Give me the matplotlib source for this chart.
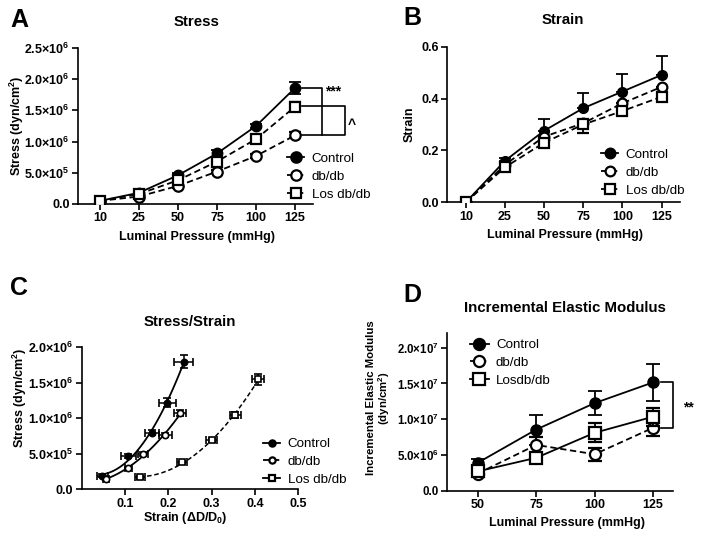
import matplotlib
matplotlib.use('Agg')
import matplotlib.pyplot as plt
from matplotlib.lines import Line2D
import numpy as np

plt.rcParams['font.family'] = ['Liberation Sans', 'DejaVu Sans']
plt.rcParams['mathtext.fontset'] = 'custom'
plt.rcParams['mathtext.rm'] = 'Liberation Sans:bold'
plt.rcParams['mathtext.it'] = 'Liberation Sans:bold'
plt.rcParams['mathtext.bf'] = 'Liberation Sans:bold'
plt.rcParams['mathtext.default'] = 'rm'

# ---- data ----
pressure = ['10', '25', '50', '75', '100', '125']
pressure_d = ['50', '75', '100', '125']
groups = ['Control', 'db/db', 'Los db/db']

# A: stress (x1e6 dyn/cm2)
stress_ctrl = [0.05, 0.18, 0.46, 0.81, 1.25, 1.86]
stress_db = [0.05, 0.12, 0.29, 0.52, 0.77, 1.10]
stress_los = [0.05, 0.16, 0.38, 0.68, 1.04, 1.56]
stress_ctrl_err = [0.02, 0.03, 0.04, 0.05, 0.04, 0.10]
stress_db_err = [0.01, 0.02, 0.03, 0.03, 0.03, 0.05]
stress_los_err = [0.01, 0.02, 0.03, 0.04, 0.05, 0.07]

# B: strain
strain_ctrl = [0.0, 0.16, 0.276, 0.363, 0.427, 0.491]
strain_db = [0.0, 0.145, 0.253, 0.305, 0.382, 0.445]
strain_los = [0.0, 0.135, 0.23, 0.30, 0.352, 0.407]
strain_ctrl_up = [0.0, 0.01, 0.045, 0.06, 0.067, 0.075]
strain_db_lo = [0.0, 0.01, 0.01, 0.036, 0.01, 0.01]
strain_los_lo = [0.0, 0.01, 0.01, 0.01, 0.01, 0.01]

# C: stress vs strain
c_ctrl_x = [0.048, 0.108, 0.162, 0.198, 0.235]
c_ctrl_y = [0.19, 0.47, 0.80, 1.22, 1.80]
c_ctrl_xerr = [0.013, 0.017, 0.017, 0.02, 0.022]
c_ctrl_yerr = [0.02, 0.03, 0.03, 0.06, 0.09]
c_db_x = [0.056, 0.108, 0.142, 0.193, 0.227]
c_db_y = [0.145, 0.30, 0.50, 0.76, 1.07]
c_db_xerr = [0.006, 0.008, 0.011, 0.015, 0.013]
c_db_yerr = [0.02, 0.02, 0.03, 0.03, 0.04]
c_los_x = [0.134, 0.231, 0.30, 0.355, 0.407]
c_los_y = [0.17, 0.38, 0.69, 1.05, 1.55]
c_los_xerr = [0.012, 0.012, 0.012, 0.012, 0.013]
c_los_yerr = [0.02, 0.02, 0.03, 0.04, 0.08]

# D: incremental elastic modulus (x1e7)
mod_ctrl = [0.39, 0.855, 1.225, 1.515]
mod_db = [0.24, 0.64, 0.51, 0.88]
mod_los = [0.27, 0.46, 0.81, 1.035]
mod_ctrl_err = [0.06, 0.21, 0.165, 0.26]
mod_db_err = [0.03, 0.11, 0.09, 0.11]
mod_los_err = [0.03, 0.04, 0.135, 0.125]

W, H = 704, 539
fig = plt.figure(figsize=(W / 100, H / 100), dpi=100)


def px_axes(left, top, right, bottom):
    return fig.add_axes([left / W, 1 - bottom / H, (right - left) / W, (bottom - top) / H])


def style(ax, size=9):
    for s in ['top', 'right']:
        ax.spines[s].set_visible(False)
    for s in ['left', 'bottom']:
        ax.spines[s].set_linewidth(1.2)
    ax.tick_params(direction='out', length=4, width=1.2, labelsize=9, pad=2)
    ax.tick_params(axis='y', labelsize=size)
    for lab in ax.get_xticklabels() + ax.get_yticklabels():
        lab.set_fontweight('bold')


def sci(v, exp):
    if v == 0:
        return '0.0'
    return '%.1f×10$^{%d}$' % (v, exp)


def ftext(x, y, s, **kw):
    fig.text(x / W, 1 - y / H, s, **kw)


def legend(ax, x, y, handles, labels=groups, hl=1.3):
    ax.legend(handles=handles, labels=labels, loc='center left', frameon=False,
              bbox_to_anchor=(x / W, 1 - y / H), bbox_transform=fig.transFigure,
              fontsize=9.6, borderpad=0, borderaxespad=0, handlelength=hl,
              handletextpad=0.55, labelspacing=0.42)


def hnd(ls, marker, face, ms):
    return Line2D([], [], color='k', ls=ls, lw=1.3, marker=marker, ms=ms,
                  mfc=face, mec='k', mew=1.6)


lw = 1.3
dash = (3.5, 2)

# ---- A: Stress ----
ax = px_axes(78, 48, 313, 204)
idx = np.arange(len(pressure))
ax.errorbar(idx, np.array(stress_ctrl) * 1e6, yerr=np.array(stress_ctrl_err) * 1e6, color='k', lw=lw,
            marker='o', ms=7.5, mfc='k', mec='k', capsize=4.5, elinewidth=1.3, capthick=1.3, zorder=3)
ax.errorbar(idx, np.array(stress_db) * 1e6, yerr=np.array(stress_db_err) * 1e6, color='k', lw=lw, dashes=dash,
            marker='o', ms=7.5, mfc='white', mec='k', mew=1.6, capsize=4.5, elinewidth=1.3, capthick=1.3, zorder=4)
ax.errorbar(idx, np.array(stress_los) * 1e6, yerr=np.array(stress_los_err) * 1e6, color='k', lw=lw, dashes=dash,
            marker='s', ms=7.5, mfc='white', mec='k', mew=1.6, capsize=4.5, elinewidth=1.3, capthick=1.3, zorder=5)
ax.set_xlim(-0.56, 5.46)
ax.set_ylim(0, 2.5e6)
ax.set_xticks(idx)
ax.set_xticklabels(pressure)
yt = [0, 0.5e6, 1.0e6, 1.5e6, 2.0e6, 2.5e6]
ax.set_yticks(yt)
ax.set_yticklabels([sci(v / 1e6 if v >= 1e6 else v / 1e5, 6 if v >= 1e6 else 5) for v in yt])
style(ax)
# significance brackets
bk = dict(color='k', lw=1.2, clip_on=False)
ax.plot([5.18, 5.69, 5.69, 5.18], [1.86e6, 1.86e6, 1.10e6, 1.10e6], **bk)
ax.plot([5.18, 6.28, 6.28, 5.69], [1.57e6, 1.57e6, 1.10e6, 1.10e6], **bk)
ax.text(5.97, 1.80e6, '***', ha='center', va='center', fontsize=10, fontweight='bold')
ax.text(6.46, 1.27e6, '^', ha='center', va='center', fontsize=10, fontweight='bold')
legend(ax, 287, 176.5, [hnd('-', 'o', 'k', 7.5), hnd('--', 'o', 'white', 7.5), hnd('--', 's', 'white', 7.5)])

# ---- B: Strain ----
ax = px_axes(447, 46.7, 680, 202.3)
z = [0] * len(pressure)
ax.errorbar(idx, strain_ctrl, yerr=[z, strain_ctrl_up], color='k', lw=lw, marker='o', ms=7,
            mfc='k', mec='k', capsize=4.5, elinewidth=1.3, capthick=1.3, zorder=3)
ax.errorbar(idx, strain_db, yerr=[strain_db_lo, z], color='k', lw=lw, dashes=dash, marker='o', ms=7,
            mfc='white', mec='k', mew=1.6, capsize=4.5, elinewidth=1.3, capthick=1.3, zorder=4)
ax.errorbar(idx, strain_los, yerr=[strain_los_lo, z], color='k', lw=lw, dashes=dash, marker='s', ms=7,
            mfc='white', mec='k', mew=1.6, capsize=4.5, elinewidth=1.3, capthick=1.3, zorder=5)
ax.set_xlim(-0.48, 5.47)
ax.set_ylim(0, 0.6)
ax.set_xticks(idx)
ax.set_xticklabels(pressure)
ax.set_yticks([0, 0.2, 0.4, 0.6])
ax.set_yticklabels(['0.0', '0.2', '0.4', '0.6'])
style(ax)
legend(ax, 601, 172.5, [hnd('-', 'o', 'k', 7), hnd('--', 'o', 'white', 7), hnd('--', 's', 'white', 7)])

# ---- C: Stress/Strain ----
ax = px_axes(81.7, 347.3, 298.3, 489.3)
ms_c = 4.5
for xs, ys, xe, ye, mk, face, ls in [
        (c_ctrl_x, c_ctrl_y, c_ctrl_xerr, c_ctrl_yerr, 'o', 'k', '-'),
        (c_db_x, c_db_y, c_db_xerr, c_db_yerr, 'o', 'white', '-'),
        (c_los_x, c_los_y, c_los_xerr, c_los_yerr, 's', 'white', '--')]:
    xs = np.array(xs)
    ys = np.array(ys) * 1e6
    # smooth fitted curve through the points
    coef = np.polyfit(xs, ys, 2)
    xf = np.linspace(xs.min(), xs.max(), 100)
    if ls == '--':
        ax.plot(xf, np.polyval(coef, xf), color='k', lw=1.1, dashes=(3, 1.8))
    else:
        ax.plot(xf, np.polyval(coef, xf), color='k', lw=1.3)
    ax.errorbar(xs, ys, xerr=xe, yerr=np.array(ye) * 1e6, fmt=mk, ms=ms_c, mfc=face, mec='k', mew=1.2,
                color='k', capsize=3, elinewidth=1.1, capthick=1.1, zorder=4)
ax.set_xlim(0, 0.5)
ax.set_ylim(0, 2.0e6)
ax.set_xticks([0.1, 0.2, 0.3, 0.4, 0.5])
ax.set_xticklabels(['0.1', '0.2', '0.3', '0.4', '0.5'])
yt = [0, 0.5e6, 1.0e6, 1.5e6, 2.0e6]
ax.set_yticks(yt)
ax.set_yticklabels([sci(v / 1e6 if v >= 1e6 else v / 1e5, 6 if v >= 1e6 else 5) for v in yt])
style(ax)
legend(ax, 263, 462, [hnd('-', 'o', 'k', 4.5), hnd('--', 'o', 'white', 4.5), hnd('-', 's', 'white', 4.5)])

# ---- D: Incremental Elastic Modulus ----
ax = px_axes(446.7, 333.4, 673, 490.7)
idd = np.arange(len(pressure_d))
ax.errorbar(idd, np.array(mod_ctrl) * 1e7, yerr=np.array(mod_ctrl_err) * 1e7, color='k', lw=lw,
            marker='o', ms=8, mfc='k', mec='k', capsize=5, elinewidth=1.3, capthick=1.3, zorder=3)
ax.errorbar(idd, np.array(mod_db) * 1e7, yerr=np.array(mod_db_err) * 1e7, color='k', lw=lw, dashes=dash,
            marker='o', ms=8, mfc='white', mec='k', mew=1.6, capsize=5, elinewidth=1.3, capthick=1.3, zorder=4)
ax.errorbar(idd, np.array(mod_los) * 1e7, yerr=np.array(mod_los_err) * 1e7, color='k', lw=lw,
            marker='s', ms=8, mfc='white', mec='k', mew=1.6, capsize=5, elinewidth=1.3, capthick=1.3, zorder=5)
ax.set_xlim(-0.53, 3.34)
ax.set_ylim(0, 2.2e7)
ax.set_xticks(idd)
ax.set_xticklabels(pressure_d)
yt = [0, 0.5e7, 1.0e7, 1.5e7, 2.0e7]
ax.set_yticks(yt)
ax.set_yticklabels([sci(v / 1e7 if v >= 1e7 else v / 1e6, 7 if v >= 1e7 else 6) for v in yt])
style(ax, size=8.3)
ax.plot([3.14, 3.34, 3.34, 3.14], [1.515e7, 1.515e7, 0.88e7, 0.88e7], **bk)
ax.text(3.6, 1.16e7, '**', ha='center', va='center', fontsize=10, fontweight='bold')
legend(ax, 470, 363, [hnd('-', 'o', 'k', 8), hnd('--', 'o', 'white', 8), hnd('-', 's', 'white', 8)],
       labels=['Control', 'db/db', 'Losdb/db'], hl=1.4)

# ---- titles, labels, panel letters ----
bold = dict(fontweight='bold', ha='center', va='center')
ftext(197, 22, 'Stress', fontsize=10.8, **bold)
ftext(563, 20, 'Strain', fontsize=10.8, **bold)
ftext(190, 322, 'Stress/Strain', fontsize=10.8, **bold)
ftext(565, 308, 'Incremental Elastic Modulus', fontsize=10.8, **bold)

ftext(197, 237, 'Luminal Pressure (mmHg)', fontsize=9, **bold)
ftext(565, 235, 'Luminal Pressure (mmHg)', fontsize=9, **bold)
ftext(185, 518, 'Strain (ΔD/D$_{0}$)', fontsize=9, **bold)
ftext(567, 523, 'Luminal Pressure (mmHg)', fontsize=9, **bold)

ftext(17, 126, 'Stress (dyn/cm$^{2}$)', fontsize=9, rotation=90, **bold)
ftext(410, 124, 'Strain', fontsize=9, rotation=90, **bold)
ftext(20, 398, 'Stress (dyn/cm$^{2}$)', fontsize=9, rotation=90, **bold)
ftext(379, 398, 'Incremental Elastic Modulus\n(dyn/cm$^{2}$)', fontsize=8.2, rotation=90,
      linespacing=0.95, **bold)

letter = dict(fontsize=18, fontweight='bold', ha='left', va='center')
ftext(10, 20, 'A', **letter)
ftext(403, 18, 'B', **letter)
ftext(10, 288, 'C', **letter)
ftext(403, 295, 'D', **letter)

fig.savefig('out.png', dpi=100, facecolor='white')
